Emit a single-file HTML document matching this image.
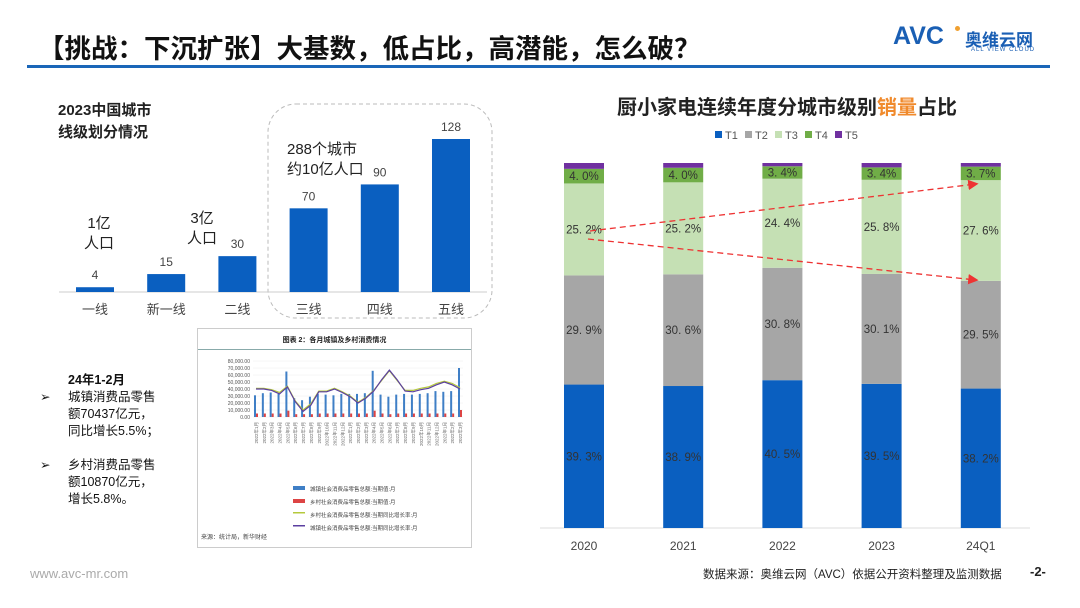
<!DOCTYPE html>
<html><head><meta charset="utf-8">
<style>
*{margin:0;padding:0;box-sizing:border-box}
body{width:1080px;height:608px;background:#fff;position:relative;overflow:hidden;font-family:"Liberation Sans","Noto Sans CJK SC",sans-serif;color:#222}
.abs{position:absolute}
</style></head><body>
<div class="abs" style="left:38px;top:27px;font-size:26.5px;font-weight:bold;color:#111;white-space:nowrap">【挑战：下沉扩张】大基数，低占比，高潜能，怎么破？</div>
<div class="abs" style="left:27px;top:65px;width:1023px;height:3px;background:#1a66b8"></div>
<div class="abs" style="left:893px;top:24px;width:160px;height:36px">
  <span style="position:absolute;left:0;top:-2px;font-size:25px;font-weight:900;color:#1a5fb4;letter-spacing:0px">AVC</span>
  <span style="position:absolute;left:62px;top:2px;width:5px;height:5px;border-radius:50%;background:#f0a030"></span>
  <span style="position:absolute;left:72px;top:2px;font-size:17px;font-weight:bold;color:#1a5fb4">奥维云网</span>
  <span style="position:absolute;left:78px;top:23px;font-size:6px;color:#1a5fb4;letter-spacing:1px">ALL VIEW CLOUD</span>
</div>

<svg class="abs" style="left:0;top:0" width="1080" height="608" id="main">
<g id="left-chart"></g>
<g id="right-chart"></g>
</svg>

<div class="abs" style="left:58px;top:100px;font-size:15px;font-weight:bold;line-height:22px">2023中国城市<br>线级划分情况</div>
<div class="abs" style="left:84px;top:214px;font-size:15px;line-height:20px;text-align:center">1亿<br>人口</div>
<div class="abs" style="left:187px;top:209px;font-size:15px;line-height:20px;text-align:center">3亿<br>人口</div>
<div class="abs" style="left:287px;top:140px;font-size:15px;line-height:20px">288个城市<br>约10亿人口</div>

<div class="abs" style="left:40px;top:372px;font-size:12.5px;line-height:17px;color:#111">
  <div style="margin-left:28px;font-weight:bold">24年1-2月</div>
  <div style="display:flex"><span style="width:28px">➢</span><span>城镇消费品零售<br>额70437亿元，<br>同比增长5.5%；</span></div>
  <div style="height:17px"></div>
  <div style="display:flex"><span style="width:28px">➢</span><span>乡村消费品零售<br>额10870亿元，<br>增长5.8%。</span></div>
</div>

<div class="abs" style="left:197px;top:328px;width:275px;height:220px;border:1px solid #ccc;background:#fff">
  <div style="position:absolute;left:0;top:6px;width:100%;text-align:center;font-size:7px;font-weight:bold">图表 2：各月城镇及乡村消费情况</div>
  <div style="position:absolute;left:0;top:20px;width:100%;height:1px;background:#8aa"></div>
  <svg id="mini" width="275" height="220" style="position:absolute;left:0;top:0"></svg>
  <div style="position:absolute;left:3px;top:203px;font-size:6px;color:#444">来源：统计局，新华财经</div>
</div>

<div class="abs" style="left:617px;top:91px;font-size:20px;font-weight:bold;white-space:nowrap">厨小家电连续年度分城市级别<span style="color:#f08a2c">销量</span>占比</div>

<div class="abs" style="left:30px;top:566px;font-size:13px;color:#aaa">www.avc-mr.com</div>
<div class="abs" style="left:703px;top:566px;font-size:11.5px;color:#222">数据来源：奥维云网（AVC）依据公开资料整理及监测数据</div>
<div class="abs" style="left:1030px;top:564px;font-size:13px;font-weight:bold">-2-</div>

<script>
const NS='http://www.w3.org/2000/svg';
function mk(p,t,a){const e=document.createElementNS(NS,t);for(const k in a)e.setAttribute(k,a[k]);p.appendChild(e);return e;}

// Left chart data
const tierCats=['一线','新一线','二线','三线','四线','五线'];
const tierCounts=[4,15,30,70,90,128];

const L=document.getElementById('left-chart');
const lBase=292, lScale=153/128, lX0=76, lStep=71.2, lW=38;
const lx=i=>lX0+i*lStep;
const ly=v=>lBase-v*lScale;
let box=mk(L,'rect',{x:268,y:104,width:224,height:214,rx:28,fill:'none',stroke:'#bbb','stroke-dasharray':'4 3'});


let ax=mk(L,'line',{x1:59,y1:lBase,x2:487,y2:lBase,stroke:'#ccc'});


tierCounts.forEach((v,i)=>{
  const r=mk(L,'rect',{x:lx(i),y:ly(v),width:lW,height:v*lScale,fill:'#0a5fc0'});
  
  
  const t=mk(L,'text',{x:lx(i)+lW/2,y:ly(v)-8,'text-anchor':'middle','font-size':12,fill:'#444'});t.textContent=v;
  
  
  const c=mk(L,'text',{x:lx(i)+lW/2,y:314,'text-anchor':'middle','font-size':13,fill:'#444'});c.textContent=tierCats[i];
  
  
});

// Right chart data
const years=['2020','2021','2022','2023','24Q1'];
const t1=[39.3,38.9,40.5,39.5,38.2];
const t2=[29.9,30.6,30.8,30.1,29.5];
const t3=[25.2,25.2,24.4,25.8,27.6];
const t4=[4.0,4.0,3.4,3.4,3.7];
const t5=[1.6,1.3,0.9,1.2,1.0];
const seriesNames=['T1','T2','T3','T4','T5'];
const colors=['#0a5fc0','#a6a6a6','#c5e0b4','#70ad47','#7030a0'];
const allSeries=[t1,t2,t3,t4,t5];

const R=document.getElementById('right-chart');
const rBase=528, rTop=163, rH=rBase-rTop, rX0=564, rStep=99.2, rW=40;
const rx=i=>rX0+i*rStep;
const ry=v=>rBase-v/100*rH;
let rax=mk(R,'line',{x1:540,y1:rBase,x2:1030,y2:rBase,stroke:'#ddd'});


years.forEach((yr,i)=>{
  let cum=0;
  allSeries.forEach((s,k)=>{
    const v=s[i];
    const r=mk(R,'rect',{x:rx(i),y:ry(cum+v),width:rW,height:v/100*rH,fill:colors[k]});
    
    
    if(k<4){
      const t=mk(R,'text',{x:rx(i)+rW/2,y:ry(cum+v/2)+4,'text-anchor':'middle','font-size':11.5,fill:'#333'});
      t.textContent=v.toFixed(1).replace('.','. ')+'%';
      
      
    }
    cum+=v;
  });
  const c=mk(R,'text',{x:rx(i)+rW/2,y:550,'text-anchor':'middle','font-size':12,fill:'#444'});c.textContent=yr;
  
  
});
// legend
seriesNames.forEach((n,k)=>{
  const x=715+k*30;
  const s=mk(R,'rect',{x:x,y:131,width:7,height:7,fill:colors[k]});
  
  
  const t=mk(R,'text',{x:x+10,y:139,'font-size':11,fill:'#555'});t.textContent=n;
  
  
});
// arrows
const defs=mk(R,'defs',{});
const m=mk(defs,'marker',{id:'ah',markerWidth:8,markerHeight:8,refX:6,refY:4,orient:'auto'});
mk(m,'path',{d:'M0,0 L8,4 L0,8 z',fill:'#e33'});
const a1=mk(R,'line',{x1:590,y1:231,x2:976,y2:184,stroke:'#e33','stroke-width':1.3,'stroke-dasharray':'6 4','marker-end':'url(#ah)'});


const a2=mk(R,'line',{x1:588,y1:239,x2:976,y2:280,stroke:'#e33','stroke-width':1.3,'stroke-dasharray':'6 4','marker-end':'url(#ah)'});



// Mini embedded chart
const urbanVals=[31,34,35,33,65,27,24,29,33,32,31,33,33,33,34,66,32,29,32,33,32,33,34,37,36,37,70];
const ruralVals=[5,5,5,5,9,4,4,4,5,5,5,5,5,5,5,9,5,4,5,5,5,5,5,5,5,5,10];
const urbanGrowth=[40,40,38,33,43,22,8,17,36,36,40,35,29,20,27,37,53,67,53,37,36,39,41,46,50,46,40];
const ruralGrowth=[41,41,39,35,44,23,10,19,37,37,41,36,30,21,28,38,52,66,52,38,38,41,43,48,51,48,42];
const M=document.getElementById('mini');
const mx0=58,mx1=262,mBase=88,mTop=32;
const mx=i=>mx0+i*(mx1-mx0)/(urbanVals.length-1);
const my=v=>mBase-v/80*(mBase-mTop);
for(let j=0;j<=8;j++){
  const t=mk(M,'text',{x:52,y:my(j*10)+2,'text-anchor':'end','font-size':5,fill:'#555'});t.textContent=(j*10000).toLocaleString('en-US')+'.00';
  
  
  mk(M,'line',{x1:mx0-3,y1:my(j*10),x2:mx1+3,y2:my(j*10),stroke:'#eee','stroke-width':0.5});
}
urbanVals.forEach((v,i)=>{
  const b=mk(M,'rect',{x:mx(i)-2,y:my(v),width:2,height:v/80*(mBase-mTop),fill:'#3f7fc6'});
  
  
  const c=mk(M,'rect',{x:mx(i),y:my(ruralVals[i]),width:2,height:ruralVals[i]/80*(mBase-mTop),fill:'#d44'});
  
  
});
const pl=(arr,col)=>{const p=mk(M,'polyline',{points:arr.map((v,i)=>mx(i)+','+my(v)).join(' '),fill:'none',stroke:col,'stroke-width':1.2});return p;};
const p1=pl(ruralGrowth,'#b5c93c');


const p2=pl(urbanGrowth,'#5b3fa0');


urbanVals.forEach((v,i)=>{
  const t=mk(M,'text',{x:mx(i)+2,y:93,'font-size':4.5,fill:'#666',transform:'rotate(-90 '+(mx(i)+2)+' 93)','text-anchor':'end'});
  t.textContent='2022年'+((i%12)+1)+'月';
  
  
});
const legs=[['#3f7fc6','城镇社会消费品零售总额:当期值:月'],['#d44','乡村社会消费品零售总额:当期值:月'],['#b5c93c','乡村社会消费品零售总额:当期同比增长率:月'],['#5b3fa0','城镇社会消费品零售总额:当期同比增长率:月']];
legs.forEach((l,k)=>{
  const y=160+k*13;
  mk(M,'rect',{x:95,y:y-3,width:12,height:k<2?4:1.5,fill:l[0]});
  const t=mk(M,'text',{x:112,y:y+2,'font-size':5.5,fill:'#444'});t.textContent=l[1];
  
  
});
</script>
</body></html>
